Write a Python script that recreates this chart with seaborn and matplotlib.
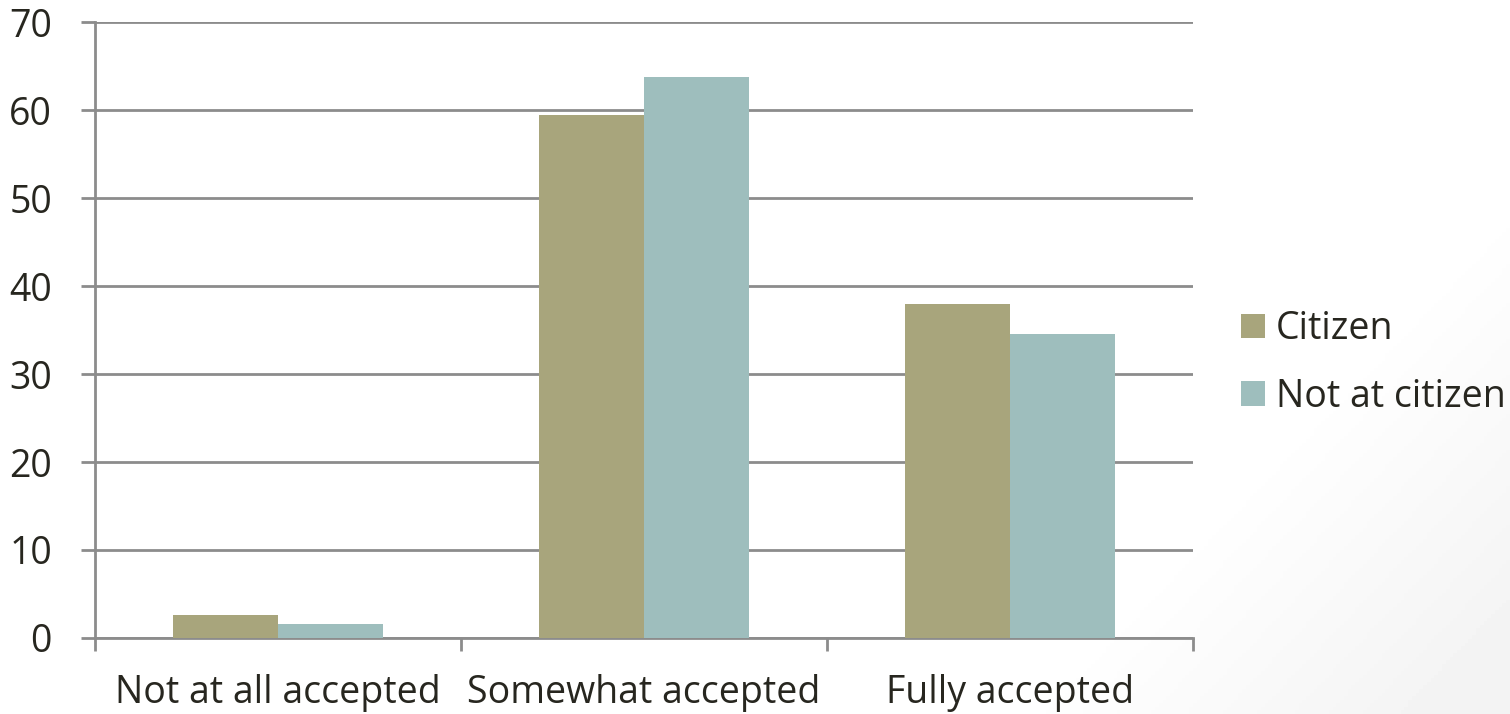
import numpy as np
import pandas as pd
import matplotlib
matplotlib.use("Agg")
import matplotlib.pyplot as plt
import seaborn as sns
from matplotlib.patches import Patch

categories = ["Not at all accepted", "Somewhat accepted", "Fully accepted"]
groups = ["Citizen", "Not at citizen"]
citizen = [2.6, 59.4, 37.9]
not_citizen = [1.6, 63.7, 34.6]
y_ticks = [0, 10, 20, 30, 40, 50, 60, 70]
colors = ["#A8A57C", "#9EBEBD"]

df = pd.DataFrame({
    "category": categories * 2,
    "group": [groups[0]] * 3 + [groups[1]] * 3,
    "value": citizen + not_citizen,
})

sns.set_theme(style="white")
plt.rcParams["font.family"] = ["Open Sans", "DejaVu Sans"]

fig = plt.figure(figsize=(15.1, 7.14), dpi=100)

# soft grey shading toward the lower-right corner
bg = fig.add_axes([0, 0, 1, 1], zorder=-10)
yy, xx = np.mgrid[0:1:200j, 0:1:400j]   # yy = 0 at the top row
d = xx + yy * 0.45
shade = np.clip((d - 1.12) / 0.3, 0, 1)
bg.imshow(1 - 0.05 * shade, cmap="gray", vmin=0, vmax=1, aspect="auto",
          extent=[0, 1, 0, 1], origin="upper")
bg.set_axis_off()

ax = fig.add_axes([95 / 1510, 1 - 638 / 714, (1193 - 95) / 1510, (638 - 22) / 714])
ax.patch.set_alpha(0)

sns.barplot(data=df, x="category", y="value", hue="group", order=categories,
            hue_order=groups, palette=colors, width=0.574, gap=0,
            linewidth=0, saturation=1, ax=ax, legend=False, zorder=3)

grid_c = "#8C8C8C"
text_c = "#27261F"
fs = 27
ax.set_ylim(0, 70)
ax.set_xlim(-0.5, 2.5)
ax.set_yticks(y_ticks)
ax.set_yticklabels([str(t) for t in y_ticks])
ax.yaxis.grid(True, color=grid_c, linewidth=2)
ax.set_axisbelow(True)
ax.tick_params(axis="y", length=10, width=2, color=grid_c, pad=21,
               labelsize=fs, labelcolor=text_c, left=True)
ax.set_xticks(range(3))
ax.set_xticklabels(categories)
ax.tick_params(axis="x", which="major", length=0, pad=26, labelsize=fs,
               labelcolor=text_c)
ax.set_xticks([-0.5, 0.5, 1.5, 2.5], minor=True)
ax.tick_params(axis="x", which="minor", length=9, width=2, color=grid_c,
               bottom=True)
ax.set_xlabel("")
ax.set_ylabel("")
for side in ["top", "right"]:
    ax.spines[side].set_visible(False)
for side in ["left", "bottom"]:
    ax.spines[side].set_color(grid_c)
    ax.spines[side].set_linewidth(2)

handles = [Patch(facecolor=c, edgecolor="none") for c in colors]
fig.legend(handles, groups, loc="center left",
           bbox_to_anchor=(1207 / 1510, 1 - 363 / 714), frameon=False,
           fontsize=fs, labelcolor=text_c, handlelength=0.64, handleheight=0.64,
           handletextpad=0.3, labelspacing=0.79)

fig.savefig("out.png", dpi=100)
